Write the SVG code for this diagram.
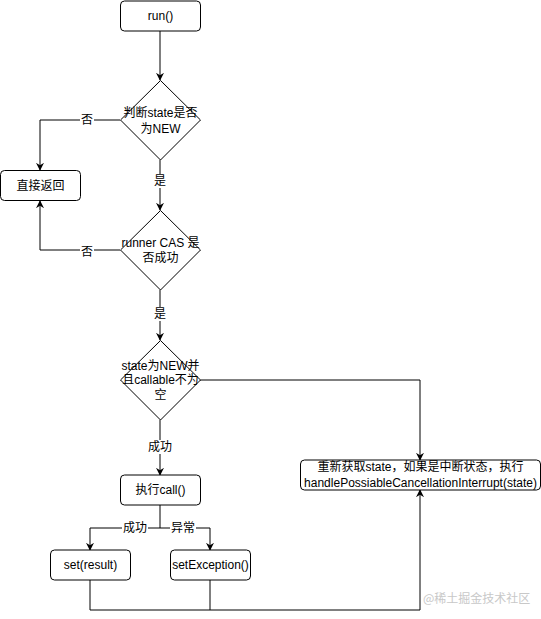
<svg xmlns="http://www.w3.org/2000/svg" width="541" height="619" viewBox="0 0 541 619">
<defs>
<style>
.box{fill:#fff;stroke:#000;stroke-width:1}
.dia{fill:#fff;stroke:#000;stroke-width:1}
.t{font-family:"Liberation Sans","Noto Sans CJK SC",sans-serif;font-size:12px;fill:#000;text-anchor:middle;dominant-baseline:central}
.e{fill:none;stroke:#000;stroke-width:1}
.lbl{fill:#fff}
.wm{font-family:"Noto Sans CJK SC","Liberation Sans",sans-serif;font-size:12px;fill:#c8c8c8;dominant-baseline:central}
</style>
<marker id="ar" viewBox="0 0 10 10" refX="9" refY="5" markerWidth="8" markerHeight="8" markerUnits="userSpaceOnUse" orient="auto">
<path d="M0,0 L10,5 L0,10 L3,5 z" fill="#000"/>
</marker>
</defs>
<rect width="541" height="619" fill="#fff"/>
<g id="connectors">
<path class="e" d="M160,31 V80" marker-end="url(#ar)"/>
<path class="e" d="M120,120 H40 V170" marker-end="url(#ar)"/>
<path class="e" d="M160,160 V210" marker-end="url(#ar)"/>
<path class="e" d="M120,250 H40 V201" marker-end="url(#ar)"/>
<path class="e" d="M160,290 V340" marker-end="url(#ar)"/>
<path class="e" d="M200,380 H420 V460" marker-end="url(#ar)"/>
<path class="e" d="M160,420 V475" marker-end="url(#ar)"/>
<path class="e" d="M160,505 V528 H90 V550" marker-end="url(#ar)"/>
<path class="e" d="M160,528 H210 V550" marker-end="url(#ar)"/>
<path class="e" d="M90,580 V610 H420 V490" marker-end="url(#ar)"/>
<path class="e" d="M210,580 V610"/>
<rect class="lbl" x="80" y="113" width="14" height="14"/>
<text class="t" x="87" y="120">否</text>
<rect class="lbl" x="153" y="174" width="14" height="14"/>
<text class="t" x="160" y="181">是</text>
<rect class="lbl" x="80" y="245" width="14" height="14"/>
<text class="t" x="87" y="252">否</text>
<rect class="lbl" x="153" y="307" width="14" height="14"/>
<text class="t" x="160" y="314">是</text>
<rect class="lbl" x="147" y="440" width="26" height="14"/>
<text class="t" x="160" y="447">成功</text>
<rect class="lbl" x="122" y="521" width="26" height="14"/>
<text class="t" x="135" y="528">成功</text>
<rect class="lbl" x="170" y="521" width="26" height="14"/>
<text class="t" x="183" y="528">异常</text>
</g>
<g id="run">
<rect class="box" x="120.5" y="1" width="80" height="30" rx="4"/>
<text class="t" x="160.5" y="16">run()</text>
</g>
<g id="check-state">
<path class="dia" d="M160.5,80.5 L200.5,120 L160.5,160 L120.5,120 Z"/>
<text class="t" x="160.5" y="113">判断state是否</text>
<text class="t" x="160.5" y="129">为NEW</text>
</g>
<g id="return">
<rect class="box" x="0.5" y="170.5" width="80" height="30" rx="4"/>
<text class="t" x="40.5" y="186">直接返回</text>
</g>
<g id="cas">
<path class="dia" d="M160.5,210.5 L200.5,250 L160.5,290 L120.5,250 Z"/>
<text class="t" x="160.5" y="243">runner CAS 是</text>
<text class="t" x="160.5" y="258">否成功</text>
</g>
<g id="check-callable">
<path class="dia" d="M160.5,340.5 L200.5,380 L160.5,420 L120.5,380 Z"/>
<text class="t" x="160.5" y="366">state为NEW并</text>
<text class="t" x="160.5" y="380">且callable不为</text>
<text class="t" x="160.5" y="395">空</text>
</g>
<g id="call">
<rect class="box" x="120.5" y="475" width="80" height="30" rx="4"/>
<text class="t" x="160.5" y="490">执行call()</text>
</g>
<g id="set-result">
<rect class="box" x="50.5" y="550" width="80" height="30" rx="4"/>
<text class="t" x="90.5" y="565">set(result)</text>
</g>
<g id="set-exception">
<rect class="box" x="170.5" y="550" width="80" height="30" rx="4"/>
<text class="t" x="210.5" y="565">setException()</text>
</g>
<g id="handle">
<rect class="box" x="300.5" y="460" width="240" height="30" rx="4"/>
<text class="t" x="420.5" y="467">重新获取state，如果是中断状态，执行</text>
<text class="t" x="420.5" y="483">handlePossiableCancellationInterrupt(state)</text>
</g>
<text class="wm" x="423" y="597">@稀土掘金技术社区</text>
</svg>
